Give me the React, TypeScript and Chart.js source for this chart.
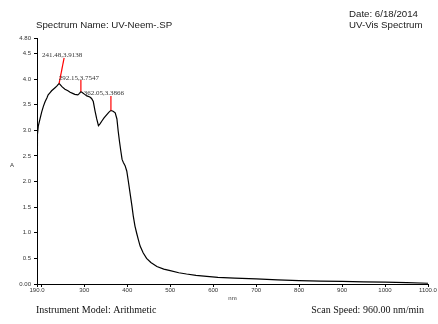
import React, { useEffect, useRef } from "react";
import { Chart, registerables } from "chart.js";

Chart.register(...registerables);

const wavelengths = [
  190, 191, 193, 197, 201, 205, 209, 213, 216, 220, 224, 228, 232, 236, 240, 241.5, 244, 248, 255, 262,
  267, 273, 278, 285, 289, 292, 296, 301, 306, 313, 317, 321, 325, 329, 333, 337, 341, 346, 352, 357,
  362, 367, 372, 376, 379, 382, 385, 388, 391, 395, 399, 403, 407, 411, 414, 418, 422, 426, 430, 437,
  445, 455, 469, 485, 500, 520, 538, 560, 585, 611, 650, 700, 750, 800, 850, 900, 950, 1000, 1050, 1100,
];
const absorbance = [
  2.68, 2.92, 3.08, 3.22, 3.36, 3.47, 3.56, 3.63, 3.69, 3.73, 3.77, 3.8, 3.83, 3.86, 3.9, 3.914, 3.89, 3.85, 3.8, 3.77,
  3.74, 3.72, 3.7, 3.69, 3.72, 3.755, 3.73, 3.7, 3.67, 3.65, 3.62, 3.56, 3.38, 3.22, 3.09, 3.13, 3.18, 3.24, 3.3, 3.35,
  3.387, 3.37, 3.34, 3.22, 2.98, 2.78, 2.6, 2.43, 2.37, 2.31, 2.2, 1.98, 1.75, 1.52, 1.33, 1.13, 0.99, 0.86, 0.74, 0.61,
  0.5, 0.42, 0.34, 0.29, 0.26, 0.22, 0.195, 0.17, 0.15, 0.13, 0.115, 0.1, 0.08, 0.067, 0.058, 0.05, 0.042, 0.035, 0.025, 0.015,
];

const xTickValues = [190, 200, 300, 400, 500, 600, 700, 800, 900, 1000, 1100];
const yTickValues = [0, 0.5, 1.0, 1.5, 2.0, 2.5, 3.0, 3.5, 4.0, 4.5, 4.8];

const peakWavelengths = [241.48, 292.15, 362.05];
const peakAbsorbances = [3.9138, 3.7547, 3.3866];
const peakLabels = ["241.48,3.9138", "292.15,3.7547", "362.05,3.3866"];

const titleText = "Spectrum Name: UV-Neem-.SP";
const dateText = "Date: 6/18/2014";
const typeText = "UV-Vis Spectrum";
const instrumentText = "Instrument Model: Arithmetic";
const speedText = "Scan Speed: 960.00 nm/min";
const xAxisTitle = "nm";
const yAxisTitle = "A";

// label placement offsets (pixels) relative to each peak
const labelOffsets = [
  { tx: 3, ty: -28, lx: 5, ly: -25.5 },
  { tx: -2, ty: -13.5, lx: 0, ly: -11.5 },
  { tx: -7, ty: -17.5, lx: 0, ly: -14.5 },
];

const textPlugin = {
  id: "spectrumText",
  afterDraw(chart: any) {
    const ctx = chart.ctx;
    const xs = chart.scales.x;
    const ys = chart.scales.y;
    ctx.save();
    for (let i = 0; i < peakWavelengths.length; i++) {
      const px = xs.getPixelForValue(peakWavelengths[i]);
      const py = ys.getPixelForValue(peakAbsorbances[i]);
      const o = labelOffsets[i];
      ctx.strokeStyle = "#ff0000";
      ctx.lineWidth = 1.2;
      ctx.beginPath();
      ctx.moveTo(px, py);
      ctx.lineTo(px + o.lx, py + o.ly);
      ctx.stroke();
      ctx.fillStyle = "#333";
      ctx.font = "7px 'Liberation Serif', 'Times New Roman', serif";
      ctx.textAlign = "center";
      ctx.textBaseline = "middle";
      ctx.fillText(peakLabels[i], px + o.tx, py + o.ty);
    }
    ctx.fillStyle = "#1a1a1a";
    ctx.font = "9.7px 'Liberation Sans', Arial, sans-serif";
    ctx.textAlign = "left";
    ctx.textBaseline = "middle";
    ctx.fillText(titleText, 36, 25);
    ctx.fillText(dateText, 349, 14);
    ctx.fillText(typeText, 349, 25);
    ctx.font = "6px 'Liberation Sans', Arial, sans-serif";
    ctx.textAlign = "center";
    ctx.fillStyle = "#333";
    ctx.fillText(yAxisTitle, 12, 165);
    ctx.fillStyle = "#111";
    ctx.font = "10px 'Liberation Serif', 'Times New Roman', serif";
    ctx.textAlign = "left";
    ctx.fillText(instrumentText, 36, 310.5);
    ctx.textAlign = "right";
    ctx.fillText(speedText, 424, 310.5);
    ctx.restore();
  },
};

export default function App() {
  const canvasRef = useRef<HTMLCanvasElement | null>(null);

  useEffect(() => {
    const canvas = canvasRef.current;
    if (!canvas) return;
    const points = wavelengths.map((w, i) => ({ x: w, y: absorbance[i] }));
    const chart = new Chart(canvas, {
      type: "line",
      data: {
        datasets: [
          {
            data: points,
            borderColor: "#000",
            borderWidth: 1.2,
            pointRadius: 0,
            fill: false,
            tension: 0,
          },
        ],
      },
      options: {
        animation: false,
        responsive: false,
        devicePixelRatio: 1,
        layout: { padding: { left: 0, top: 38, right: 10, bottom: 0 } },
        plugins: {
          legend: { display: false },
          tooltip: { enabled: false },
          title: { display: false },
        },
        scales: {
          x: {
            type: "linear",
            min: 190,
            max: 1100,
            afterBuildTicks: (scale: any) => {
              scale.ticks = xTickValues.map((v) => ({ value: v }));
            },
            afterFit: (scale: any) => {
              scale.height = 40;
            },
            ticks: {
              autoSkip: false,
              maxRotation: 0,
              minRotation: 0,
              padding: 0,
              color: "#333",
              font: { size: 6, family: "'Liberation Sans', Arial, sans-serif" },
              callback: (v: any) => {
                const n = Number(v);
                if (n === 190) return "190.0";
                if (n === 1100) return "1100.0";
                if (n === 200) return "";
                return String(n);
              },
            },
            grid: { display: true, drawOnChartArea: false, drawTicks: true, tickLength: 3, color: "#000" },
            border: { display: true, color: "#000", width: 1 },
            title: {
              display: true,
              text: xAxisTitle,
              color: "#333",
              font: { size: 6, family: "'Liberation Sans', Arial, sans-serif" },
              padding: { top: 0, bottom: 22.4 },
            },
          },
          y: {
            type: "linear",
            min: 0,
            max: 4.8,
            afterBuildTicks: (scale: any) => {
              scale.ticks = yTickValues.map((v) => ({ value: v }));
            },
            afterFit: (scale: any) => {
              scale.width = 37;
            },
            ticks: {
              autoSkip: false,
              padding: 3,
              color: "#333",
              font: { size: 6, family: "'Liberation Sans', Arial, sans-serif" },
              callback: (v: any) => {
                const n = Number(v);
                if (n === 0) return "0.00";
                if (n === 4.8) return "4.80";
                return n.toFixed(1);
              },
            },
            grid: { display: true, drawOnChartArea: false, drawTicks: true, tickLength: 3, color: "#000" },
            border: { display: true, color: "#000", width: 1 },
          },
        },
      },
      plugins: [textPlugin],
    });
    return () => chart.destroy();
  }, []);

  return (
    <div style={{ position: "fixed", left: 0, top: 0, width: 438, height: 324, background: "#fff" }}>
      <canvas ref={canvasRef} width={438} height={324} style={{ display: "block", width: 438, height: 324 }} />
    </div>
  );
}
